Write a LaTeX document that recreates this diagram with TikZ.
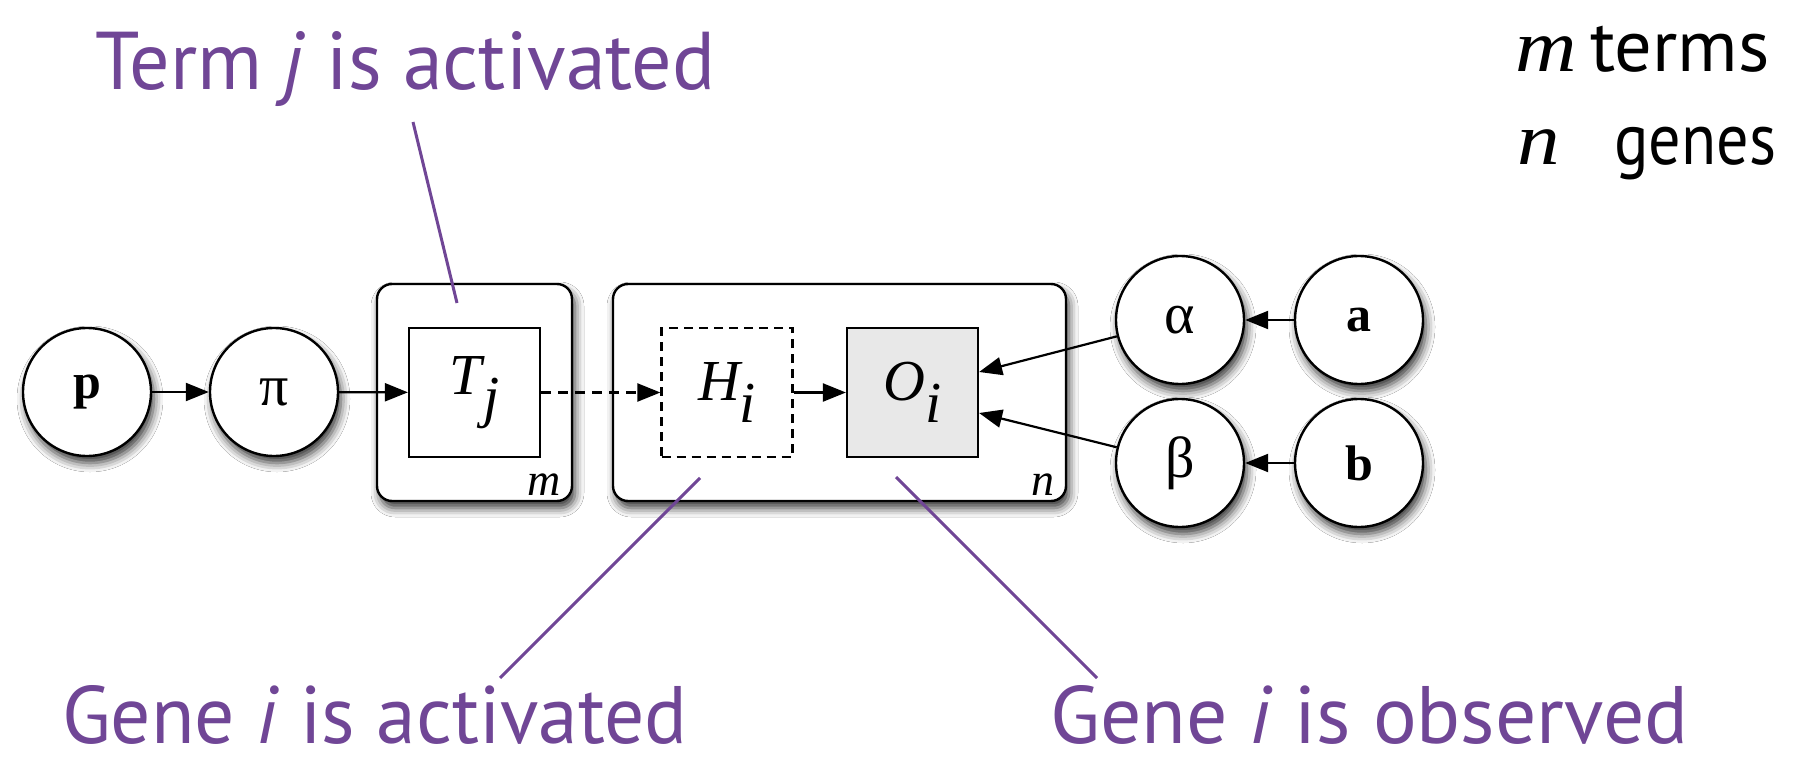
\documentclass[tikz,border=0pt]{standalone}
\usepackage{fontspec}
\usepackage{graphicx}
\usetikzlibrary{arrows.meta,shadows.blur}
\newfontfamily\gill{PT Sans}
\newfontfamily\tms{Liberation Serif}
\definecolor{purp}{RGB}{112,70,150}
\definecolor{obsgray}{RGB}{232,232,232}
\begin{document}
\begin{tikzpicture}[x=1pt,y=-1pt,
  shad/.style={blur shadow={shadow xshift=3pt,shadow yshift=-7pt,shadow blur radius=9pt,shadow opacity=80}},
  var/.style={circle,draw,line width=2.4pt,fill=white,minimum size=128pt,inner sep=0pt,shad,font=\fontsize{50}{50}\selectfont\tms},
  greek/.style={font=\fontsize{58}{58}\selectfont\tms},
  plate/.style={draw,line width=2.4pt,fill=white,rounded corners=15pt,inner sep=0pt,shad},
  sqbox/.style={draw,line width=2.2pt,minimum width=131pt,minimum height=129pt,inner sep=0pt,font=\fontsize{58}{58}\selectfont\tms\itshape},
  arr/.style={line width=2.2pt,-{Triangle[length=23pt,width=18pt]}},
  callout/.style={purp,line width=3pt},
  lab/.style={anchor=base west,inner sep=0pt,text=purp,font=\gill},
  platelab/.style={anchor=base east,inner sep=0pt,font=\fontsize{46}{46}\selectfont\tms\itshape},
  legend/.style={anchor=base west,inner sep=0pt,font=\fontsize{73}{73}\selectfont\gill},
]
\useasboundingbox (0,0) rectangle (1808,762);
\fill[white] (0,0) rectangle (1808,762);

% plates
\node[plate,minimum width=195pt,minimum height=217pt] (platem) at (474.5,392.5) {};
\node[plate,minimum width=453pt,minimum height=217pt] (platen) at (839.5,392.5) {};
\node[platelab] (mlab) at (561,495) {m};
\node[platelab] (nlab) at (1055,495) {n};

% variables
\node[var] (p) at (87,392) {\textbf{p}};
\node[var,greek] (pi) at (274,392) {π};
\node[var,greek] (alpha) at (1180,320) {α};
\node[var,greek] (beta) at (1180,463) {β};
\node[var] (a) at (1359,320) {\textbf{a}};
\node[var] (b) at (1359,463) {\textbf{b}};

\node[sqbox,fill=white] (T) at (474.5,392.5) {T\kern1pt\raisebox{-22pt}{j}};
\node[sqbox,fill=white,dash pattern=on 9pt off 6pt] (H) at (727,392.5) {H\raisebox{-22pt}{i}};
\node[sqbox,fill=obsgray] (O) at (912.5,392.5) {O\raisebox{-22pt}{i}};

\coordinate (Oa) at ([yshift=20.5pt]O.east);
\coordinate (Ob) at ([yshift=-20.5pt]O.east);

% edges
\draw[arr] (p) -- (pi);
\draw[arr] (pi) -- (T);
\draw[arr,dash pattern=on 10pt off 7pt] (T) -- (H);
\draw[arr] (H) -- (O);
\draw[arr] (a) -- (alpha);
\draw[arr] (b) -- (beta);
\draw[arr] (alpha) -- (Oa);
\draw[arr] (beta) -- (Ob);

% labels
\node[lab] (tlab) at (95,90) {\resizebox{620pt}{58pt}{Term \textit{j} is activated}};
\node[lab] (hlab) at (62,743) {\resizebox{625pt}{58pt}{Gene \textit{i} is activated}};
\node[lab] (olab) at (1050,743) {\resizebox{638pt}{58pt}{Gene \textit{i} is observed}};

\coordinate (tc1) at (413,122);
\coordinate (tc2) at (457,303);
\coordinate (hc1) at (500,678);
\coordinate (hc2) at (700,478);
\coordinate (oc1) at (1097,678);
\coordinate (oc2) at (896,477);
\draw[callout] (tc1) -- (tc2);
\draw[callout] (hc1) -- (hc2);
\draw[callout] (oc1) -- (oc2);

% legend
\node[legend] (mterms) at (1515,72)
  {\makebox[75pt][l]{\scalebox{1.15}[1]{\fontsize{74}{74}\selectfont\tms\itshape m}}\scalebox{1.02}[1]{terms}};
\node[legend] (ngenes) at (1517,165)
  {\makebox[97pt][l]{\scalebox{1.15}[1]{\fontsize{74}{74}\selectfont\tms\itshape n}}\scalebox{0.88}[1]{genes}};
\end{tikzpicture}
\end{document}
